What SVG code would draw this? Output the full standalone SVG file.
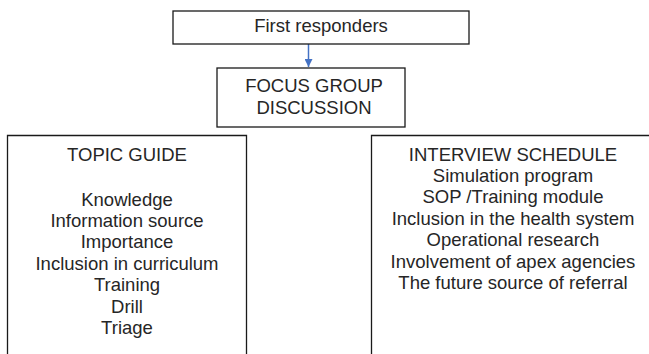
<svg xmlns="http://www.w3.org/2000/svg" width="649" height="354" viewBox="0 0 649 354">
  <style>
    .box { fill: #ffffff; stroke: #1a1a1a; stroke-width: 1.3; }
    .lbl { font-family: "Liberation Sans", Arial, sans-serif; font-size: 18.5px; fill: #262626; text-anchor: middle; }
    .link { stroke: #4472c4; stroke-width: 1.5; fill: none; }
  </style>
  <defs>
    <marker id="arrow" viewBox="0 0 10 10" refX="10" refY="5" markerWidth="8" markerHeight="8" markerUnits="userSpaceOnUse" orient="auto">
      <path d="M0,0 L10,5 L0,10 Z" fill="#4472c4"/>
    </marker>
  </defs>
  <rect width="649" height="354" fill="#ffffff"/>

  <g id="connectors">
    <line class="link" x1="308.5" y1="44" x2="308.5" y2="67" marker-end="url(#arrow)"/>
  </g>

  <g id="first-responders">
    <rect class="box" x="173" y="11" width="296" height="33"/>
    <text class="lbl" x="321" y="32">First responders</text>
  </g>

  <g id="focus-group">
    <rect class="box" x="217" y="68" width="188" height="59"/>
    <text class="lbl" x="314" y="92">FOCUS GROUP</text>
    <text class="lbl" x="314" y="113.5">DISCUSSION</text>
  </g>

  <g id="topic-guide">
    <path class="box" d="M7.5,356 V135.5 H246.5 V356"/>
    <text class="lbl" x="127" y="161">TOPIC GUIDE</text>
    <text class="lbl" x="127" y="205.5">Knowledge</text>
    <text class="lbl" x="127" y="226.9">Information source</text>
    <text class="lbl" x="127" y="248.3">Importance</text>
    <text class="lbl" x="127" y="269.7">Inclusion in curriculum</text>
    <text class="lbl" x="127" y="291.1">Training</text>
    <text class="lbl" x="127" y="312.5">Drill</text>
    <text class="lbl" x="127" y="333.9">Triage</text>
  </g>

  <g id="interview-schedule">
    <path class="box" d="M371.5,356 V135.5 H652"/>
    <text class="lbl" x="513" y="160.5">INTERVIEW SCHEDULE</text>
    <text class="lbl" x="513" y="181.9">Simulation program</text>
    <text class="lbl" x="513" y="203.3">SOP /Training module</text>
    <text class="lbl" x="513" y="224.7">Inclusion in the health system</text>
    <text class="lbl" x="513" y="246.1">Operational research</text>
    <text class="lbl" x="513" y="267.5">Involvement of apex agencies</text>
    <text class="lbl" x="513" y="288.9">The future source of referral</text>
  </g>
</svg>
